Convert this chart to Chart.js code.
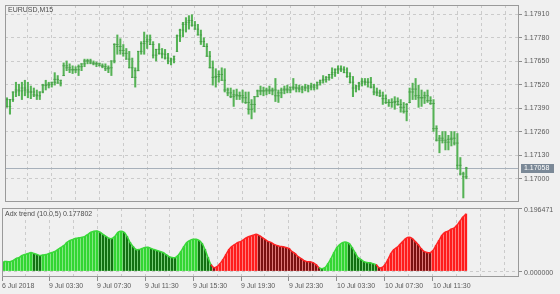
<!DOCTYPE html>
<html>
<head>
<meta charset="utf-8">
<script src="https://cdn.jsdelivr.net/npm/chart.js"></script>
<style>
  html, body { margin: 0; padding: 0; background: #f0f0f0; }
  #wrap { position: relative; width: 560px; height: 294px; overflow: hidden; }
  canvas { position: absolute; left: 0; }
  #priceChart { top: 0; }
  #adxChart { top: 200px; }
</style>
</head>
<body>
<div id="wrap">
  <canvas id="priceChart" width="560" height="207"></canvas>
  <canvas id="adxChart" width="560" height="94"></canvas>
</div>
<script>
// EURUSD M15 bars, 6 Jul 23:45 .. 10 Jul 14:15
const symbolTitle = 'EURUSD,M15';
const indicatorTitle = 'Adx trend (10.0,5) 0.177802';

const openPrices = [
  1.17438,1.17400,1.17438,1.17480,1.17491,1.17486,1.17502,1.17491,1.17480,1.17480,
  1.17464,1.17459,1.17480,1.17518,1.17518,1.17523,1.17534,1.17550,1.17529,1.17571,
  1.17625,1.17614,1.17603,1.17603,1.17603,1.17620,1.17636,1.17652,1.17652,1.17641,
  1.17636,1.17636,1.17625,1.17620,1.17609,1.17614,1.17652,1.17743,1.17732,1.17710,
  1.17694,1.17662,1.17614,1.17561,1.17598,1.17705,1.17748,1.17759,1.17769,1.17743,
  1.17684,1.17716,1.17694,1.17689,1.17668,1.17652,1.17662,1.17705,1.17791,1.17823,
  1.17855,1.17866,1.17876,1.17850,1.17828,1.17796,1.17759,1.17732,1.17678,1.17614,
  1.17561,1.17566,1.17577,1.17545,1.17491,1.17475,1.17454,1.17464,1.17459,1.17459,
  1.17448,1.17422,1.17384,1.17411,1.17454,1.17486,1.17486,1.17486,1.17491,1.17486,
  1.17491,1.17459,1.17475,1.17491,1.17496,1.17491,1.17507,1.17502,1.17502,1.17496,
  1.17507,1.17502,1.17513,1.17507,1.17518,1.17534,1.17545,1.17550,1.17561,1.17577,
  1.17587,1.17603,1.17609,1.17603,1.17587,1.17566,1.17534,1.17502,1.17513,1.17529,
  1.17539,1.17534,1.17534,1.17507,1.17480,1.17475,1.17459,1.17443,1.17422,1.17422,
  1.17422,1.17427,1.17411,1.17395,1.17373,1.17422,1.17480,1.17496,1.17459,1.17448,
  1.17448,1.17459,1.17432,1.17416,1.17277,1.17213,1.17224,1.17213,1.17202,1.17218,
  1.17224,1.17197,1.17074,1.17026,1.17010
];
const highPrices = [
  1.17448,1.17438,1.17480,1.17534,1.17523,1.17534,1.17545,1.17534,1.17513,1.17502,
  1.17491,1.17480,1.17523,1.17545,1.17534,1.17534,1.17587,1.17571,1.17545,1.17641,
  1.17652,1.17636,1.17625,1.17620,1.17630,1.17636,1.17662,1.17662,1.17662,1.17652,
  1.17646,1.17641,1.17636,1.17636,1.17625,1.17652,1.17748,1.17796,1.17775,1.17743,
  1.17721,1.17705,1.17668,1.17614,1.17705,1.17759,1.17812,1.17796,1.17796,1.17759,
  1.17716,1.17748,1.17721,1.17716,1.17694,1.17668,1.17678,1.17796,1.17828,1.17866,
  1.17892,1.17903,1.17908,1.17871,1.17855,1.17823,1.17780,1.17748,1.17705,1.17652,
  1.17609,1.17598,1.17614,1.17609,1.17502,1.17502,1.17491,1.17496,1.17480,1.17491,
  1.17480,1.17480,1.17438,1.17454,1.17491,1.17513,1.17507,1.17502,1.17513,1.17502,
  1.17555,1.17491,1.17502,1.17513,1.17518,1.17507,1.17555,1.17523,1.17518,1.17513,
  1.17523,1.17518,1.17529,1.17523,1.17534,1.17545,1.17571,1.17566,1.17577,1.17614,
  1.17609,1.17625,1.17625,1.17620,1.17614,1.17587,1.17566,1.17518,1.17534,1.17555,
  1.17555,1.17555,1.17561,1.17523,1.17502,1.17491,1.17480,1.17464,1.17438,1.17443,
  1.17454,1.17448,1.17438,1.17422,1.17416,1.17502,1.17529,1.17555,1.17518,1.17491,
  1.17480,1.17491,1.17454,1.17438,1.17293,1.17240,1.17261,1.17261,1.17240,1.17261,
  1.17261,1.17250,1.17117,1.17036,1.17063
];
const lowPrices = [
  1.17395,1.17357,1.17427,1.17454,1.17459,1.17438,1.17459,1.17448,1.17443,1.17454,
  1.17438,1.17438,1.17475,1.17491,1.17502,1.17507,1.17518,1.17529,1.17513,1.17571,
  1.17598,1.17587,1.17582,1.17587,1.17571,1.17598,1.17620,1.17636,1.17636,1.17630,
  1.17620,1.17625,1.17614,1.17598,1.17587,1.17571,1.17641,1.17689,1.17689,1.17678,
  1.17662,1.17614,1.17561,1.17507,1.17598,1.17689,1.17689,1.17721,1.17743,1.17668,
  1.17652,1.17689,1.17668,1.17662,1.17636,1.17630,1.17641,1.17705,1.17759,1.17785,
  1.17812,1.17828,1.17844,1.17828,1.17796,1.17743,1.17732,1.17678,1.17614,1.17518,
  1.17507,1.17534,1.17545,1.17480,1.17459,1.17448,1.17400,1.17438,1.17438,1.17422,
  1.17416,1.17357,1.17331,1.17368,1.17454,1.17464,1.17459,1.17464,1.17470,1.17464,
  1.17427,1.17422,1.17448,1.17470,1.17475,1.17475,1.17491,1.17480,1.17480,1.17475,
  1.17486,1.17480,1.17491,1.17491,1.17496,1.17518,1.17529,1.17534,1.17545,1.17555,
  1.17566,1.17582,1.17593,1.17587,1.17561,1.17529,1.17454,1.17480,1.17491,1.17513,
  1.17518,1.17507,1.17502,1.17464,1.17459,1.17454,1.17411,1.17416,1.17400,1.17395,
  1.17384,1.17406,1.17368,1.17363,1.17320,1.17422,1.17438,1.17438,1.17395,1.17400,
  1.17416,1.17422,1.17411,1.17261,1.17208,1.17143,1.17197,1.17159,1.17159,1.17181,
  1.17186,1.17052,1.17020,1.16893,1.16999
];
const closePrices = [
  1.17400,1.17438,1.17480,1.17491,1.17486,1.17502,1.17491,1.17480,1.17480,1.17464,
  1.17459,1.17480,1.17518,1.17518,1.17523,1.17534,1.17550,1.17529,1.17545,1.17625,
  1.17614,1.17603,1.17603,1.17603,1.17620,1.17636,1.17652,1.17652,1.17641,1.17636,
  1.17636,1.17625,1.17620,1.17609,1.17614,1.17652,1.17743,1.17732,1.17710,1.17694,
  1.17662,1.17614,1.17561,1.17598,1.17705,1.17748,1.17759,1.17769,1.17743,1.17684,
  1.17716,1.17694,1.17689,1.17668,1.17652,1.17662,1.17678,1.17791,1.17823,1.17855,
  1.17866,1.17876,1.17850,1.17828,1.17796,1.17759,1.17732,1.17678,1.17614,1.17561,
  1.17566,1.17577,1.17545,1.17491,1.17475,1.17454,1.17464,1.17459,1.17459,1.17448,
  1.17422,1.17384,1.17411,1.17454,1.17486,1.17486,1.17486,1.17491,1.17486,1.17491,
  1.17459,1.17475,1.17491,1.17496,1.17491,1.17507,1.17502,1.17502,1.17496,1.17507,
  1.17502,1.17513,1.17507,1.17518,1.17534,1.17545,1.17550,1.17561,1.17577,1.17587,
  1.17603,1.17609,1.17603,1.17587,1.17566,1.17534,1.17502,1.17513,1.17529,1.17539,
  1.17534,1.17534,1.17507,1.17480,1.17475,1.17459,1.17443,1.17422,1.17422,1.17422,
  1.17427,1.17411,1.17395,1.17373,1.17411,1.17480,1.17496,1.17459,1.17448,1.17448,
  1.17459,1.17432,1.17416,1.17277,1.17213,1.17224,1.17213,1.17202,1.17218,1.17224,
  1.17197,1.17074,1.17026,1.17010,1.17058
];
const bidPrice = 1.17058;

// Adx trend histogram, one value per bar
const adxValues = [
  0.0293,0.0293,0.0293,0.0325,0.0388,0.0419,0.0483,0.0514,0.0546,0.0577,
  0.0546,0.0514,0.0483,0.0498,0.0514,0.0546,0.0577,0.0609,0.0672,0.0735,
  0.0798,0.0893,0.0956,0.0987,0.1019,0.1035,0.1050,0.1082,0.1145,0.1208,
  0.1240,0.1245,0.1208,0.1145,0.1082,0.1019,0.1015,0.1082,0.1208,0.1240,
  0.1208,0.1082,0.0893,0.0766,0.0672,0.0670,0.0703,0.0735,0.0740,0.0703,
  0.0672,0.0640,0.0609,0.0577,0.0514,0.0451,0.0419,0.0415,0.0483,0.0609,
  0.0766,0.0893,0.0956,0.0987,0.0990,0.0956,0.0861,0.0672,0.0419,0.0199,
  0.0104,0.0136,0.0230,0.0356,0.0514,0.0672,0.0766,0.0830,0.0893,0.0924,
  0.0987,0.1050,0.1082,0.1113,0.1145,0.1113,0.1050,0.0987,0.0924,0.0893,
  0.0830,0.0798,0.0766,0.0760,0.0735,0.0703,0.0609,0.0546,0.0451,0.0388,
  0.0325,0.0293,0.0290,0.0262,0.0199,0.0104,0.0073,0.0104,0.0230,0.0388,
  0.0577,0.0735,0.0830,0.0893,0.0900,0.0861,0.0735,0.0577,0.0419,0.0356,
  0.0293,0.0262,0.0258,0.0230,0.0199,0.0104,0.0110,0.0199,0.0356,0.0546,
  0.0672,0.0735,0.0830,0.0924,0.1019,0.1050,0.1019,0.0924,0.0830,0.0703,
  0.0609,0.0577,0.0570,0.0640,0.0798,0.0956,0.1113,0.1208,0.1240,0.1303,
  0.1334,0.1429,0.1555,0.1681,0.177802
];
// bars where the indicator is in down-trend (red)
const redRanges = [[70, 105], [125, 154]];

const priceTicks = [1.17000, 1.17130, 1.17260, 1.17390, 1.17520, 1.17650, 1.17780, 1.17910];
const adxMin = -0.018669, adxMax = 0.196471;

// time axis: bar indexes of grid lines (every 2h) and labelled ticks (every 4h)
const gridBars = [7, 15, 23, 31, 39, 47, 55, 63, 71, 79, 87, 95, 103, 111, 119, 127, 135, 143, 151, 159, 167];
const labelBars = [15, 31, 47, 63, 79, 95, 111, 127, 143];
const labelTexts = ['9 Jul 03:30', '9 Jul 07:30', '9 Jul 11:30', '9 Jul 15:30', '9 Jul 19:30',
                    '9 Jul 23:30', '10 Jul 03:30', '10 Jul 07:30', '10 Jul 11:30'];
const firstLabel = '6 Jul 2018';

const xMin = -0.667, xMax = 171.667;
const priceMin = 1.168705, priceMax = 1.179619;

Chart.defaults.font.family = "'Liberation Sans', Arial, sans-serif";
Chart.defaults.font.size = 7;
Chart.defaults.color = '#5a5a5a';

const gridColor = '#cbcbcb';

function isRed(i) {
  return redRanges.some(r => i >= r[0] && i <= r[1]);
}
function adxBarColor(i) {
  const falling = i > 0 && adxValues[i] < adxValues[i - 1];
  if (isRed(i)) return falling ? '#7a1111' : '#ff1c1c';
  return falling ? '#127012' : '#33d633';
}

// frame + caption of each panel
const panelFrame = {
  id: 'panelFrame',
  afterDraw(chart, args, opts) {
    const {ctx, chartArea: a} = chart;
    ctx.save();
    ctx.strokeStyle = '#9a9a9a';
    ctx.lineWidth = 1;
    ctx.strokeRect(a.left + 0.5, a.top + 0.5, a.right - a.left - 1, a.bottom - a.top - 1);
    ctx.fillStyle = '#4d4d4d';
    ctx.font = "7px 'Liberation Sans', Arial, sans-serif";
    ctx.textBaseline = 'middle';
    ctx.fillText(opts.title, a.left + 3, a.top + opts.titleY);
    ctx.restore();
  }
};

// bid price line and its label on the price axis
const bidLine = {
  id: 'bidLine',
  beforeDatasetsDraw(chart) {
    const {ctx, chartArea: a, scales: {y}} = chart;
    const py = Math.round(y.getPixelForValue(bidPrice)) + 0.5;
    ctx.save();
    ctx.strokeStyle = '#a7b0ba';
    ctx.lineWidth = 1;
    ctx.beginPath();
    ctx.moveTo(a.left, py);
    ctx.lineTo(a.right, py);
    ctx.stroke();
    ctx.restore();
  },
  afterDraw(chart) {
    const {ctx, chartArea: a, scales: {y}} = chart;
    const py = Math.round(y.getPixelForValue(bidPrice));
    ctx.save();
    ctx.fillStyle = '#7b8997';
    ctx.fillRect(a.right + 2, py - 4, 33, 9);
    ctx.fillStyle = '#ffffff';
    ctx.font = "7px 'Liberation Sans', Arial, sans-serif";
    ctx.textBaseline = 'middle';
    ctx.fillText(bidPrice.toFixed(5), a.right + 5, py + 0.5);
    ctx.restore();
  }
};

const noPad = s => { s.paddingLeft = 0; s.paddingRight = 0; s.paddingTop = 0; s.paddingBottom = 0; };

new Chart(document.getElementById('priceChart'), {
  type: 'bar',
  data: {
    datasets: [{
      type: 'bar',
      data: highPrices.map((h, i) => ({x: i, y: [lowPrices[i], h]})),
      backgroundColor: '#55b255',
      barThickness: 1.4,
      order: 2
    }, {
      type: 'line',
      data: openPrices.map((v, i) => ({x: i, y: v})),
      showLine: false,
      pointStyle: 'line',
      pointRadius: 1.2,
      pointBorderWidth: 1,
      pointBorderColor: '#4a9e4a',
      order: 1
    }, {
      type: 'line',
      data: closePrices.map((v, i) => ({x: i, y: v})),
      showLine: false,
      pointStyle: 'line',
      pointRadius: 1.2,
      pointBorderWidth: 1,
      pointBorderColor: '#4a9e4a',
      order: 1
    }]
  },
  options: {
    responsive: false,
    animation: false,
    events: [],
    devicePixelRatio: 1,
    layout: {padding: {left: 2, top: 2, right: 0, bottom: 1}},
    plugins: {
      legend: {display: false},
      tooltip: {enabled: false},
      panelFrame: {title: symbolTitle, titleY: 5}
    },
    scales: {
      x: {
        type: 'linear', min: xMin, max: xMax, offset: false,
        afterBuildTicks: s => { s.ticks = gridBars.map(v => ({value: v})); },
        ticks: {display: false},
        grid: {color: gridColor, drawTicks: false, offset: false},
        border: {display: false, dash: [3, 3]},
        afterFit: s => { s.height = 0; noPad(s); }
      },
      y: {
        position: 'right', min: priceMin, max: priceMax,
        afterBuildTicks: s => { s.ticks = priceTicks.map(v => ({value: v})); },
        ticks: {callback: v => v.toFixed(5), padding: 2},
        grid: {color: gridColor, tickLength: 3, tickColor: '#8c8c8c'},
        border: {display: false, dash: [3, 3]},
        afterFit: s => { s.width = 41; noPad(s); }
      }
    }
  },
  plugins: [panelFrame, bidLine]
});

new Chart(document.getElementById('adxChart'), {
  type: 'bar',
  data: {
    datasets: [{
      type: 'line',
      data: adxValues.map((v, i) => ({x: i, y: v})),
      borderColor: '#33d633',
      borderWidth: 1.5,
      pointRadius: 0,
      tension: 0.3,
      fill: 'origin',
      segment: {
        borderColor: c => isRed(c.p1DataIndex) ? '#ff2323' : '#3ad83a',
        backgroundColor: c => isRed(c.p1DataIndex) ? '#ff9c9c' : '#9dee9d'
      },
      order: 0
    }, {
      type: 'bar',
      data: adxValues.map((v, i) => ({x: i, y: v})),
      backgroundColor: adxValues.map((v, i) => adxBarColor(i)),
      barThickness: 1.6,
      order: 1
    }]
  },
  options: {
    responsive: false,
    animation: false,
    events: [],
    devicePixelRatio: 1,
    layout: {padding: {left: 2, top: 8, right: 0, bottom: 0}},
    plugins: {
      legend: {display: false},
      tooltip: {enabled: false},
      filler: {drawTime: 'beforeDatasetsDraw'},
      panelFrame: {title: indicatorTitle, titleY: 6}
    },
    scales: {
      x: {
        type: 'linear', min: xMin, max: xMax, offset: false,
        afterBuildTicks: s => { s.ticks = [xMin].concat(gridBars).map(v => ({value: v})); },
        ticks: {
          autoSkip: false, maxRotation: 0, align: 'start', padding: 1,
          callback: v => {
            if (v === xMin) return firstLabel;
            const k = labelBars.indexOf(v);
            return k >= 0 ? labelTexts[k] : '';
          }
        },
        grid: {
          offset: false,
          color: c => (c.tick && c.tick.value === xMin) ? 'rgba(0,0,0,0)' : gridColor,
          tickColor: c => (c.tick && (c.tick.value === xMin || labelBars.includes(c.tick.value))) ? '#8c8c8c' : 'rgba(0,0,0,0)',
          tickLength: 4
        },
        border: {display: false, dash: [3, 3]},
        afterFit: s => { s.height = 17; noPad(s); }
      },
      y: {
        position: 'right', min: adxMin, max: adxMax,
        afterBuildTicks: s => { s.ticks = [{value: 0}, {value: adxMax}]; },
        ticks: {callback: v => v.toFixed(6), padding: 2, labelOffset: 2},
        grid: {
          color: c => (c.tick && c.tick.value === 0) ? gridColor : 'rgba(0,0,0,0)',
          tickLength: 3, tickColor: '#8c8c8c'
        },
        border: {display: false, dash: [3, 3]},
        afterFit: s => { s.width = 41; noPad(s); }
      }
    }
  },
  plugins: [panelFrame]
});
</script>
</body>
</html>
